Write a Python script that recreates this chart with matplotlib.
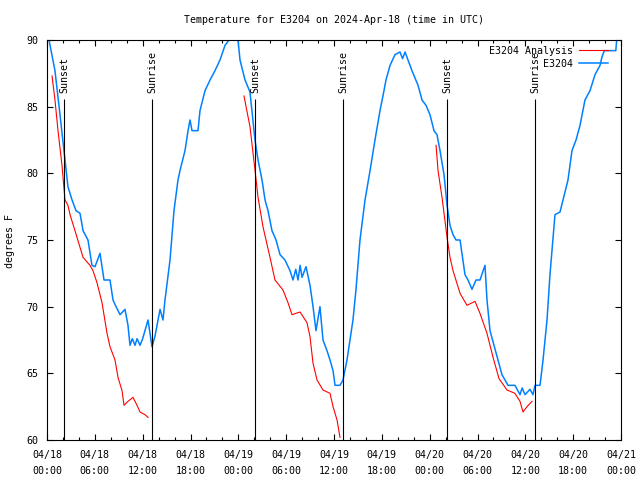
import numpy as np
import pandas as pd
import matplotlib
matplotlib.use("Agg")
import matplotlib.pyplot as plt
import matplotlib.dates as mdates

plt.rcParams['font.family'] = ['DejaVu Sans Mono']
plt.rcParams['font.size'] = 7.2

base = pd.Timestamp('2024-04-18 00:00')

# observed station temps (hours since 04/18 00:00 UTC, deg F)
obs_hours = [0.25, 1.0, 1.63, 2.13, 2.63, 3.14, 3.64, 4.14, 4.52, 5.14, 5.64, 6.02,
             6.65, 7.15, 7.9, 8.28, 8.66, 9.16, 9.78, 10.16, 10.41, 10.7, 11.04, 11.3,
             11.67, 12.0, 12.29, 12.67, 13.17, 13.55, 14.18, 14.55, 14.8, 15.43, 15.93,
             16.43, 16.68, 17.31, 17.69, 17.94, 18.19, 18.94, 19.19, 19.82, 20.45, 21.07,
             21.7, 22.33, 22.83, 23.33, 23.96, 24.21, 24.84, 25.46, 26.09, 26.47, 26.97,
             27.35, 27.72, 28.22, 28.73, 29.23, 29.85, 30.48, 30.86, 31.2, 31.49, 31.75,
             31.99, 32.49, 32.99, 33.37, 33.74, 34.24, 34.62, 35.12, 35.5, 35.88, 36.13,
             36.75, 37.13, 37.63, 38.01, 38.38, 38.76, 39.26, 39.89, 40.52, 41.14, 41.77,
             42.27, 42.52, 43.03, 43.65, 44.28, 44.6, 44.91, 45.28, 45.78, 46.54, 47.04,
             47.54, 48.04, 48.54, 48.92, 49.3, 49.8, 50.18, 50.55, 50.93, 51.3, 51.81,
             52.43, 52.81, 53.31, 53.81, 54.31, 54.94, 55.19, 55.57, 56.07, 56.57, 57.07,
             57.83, 58.7, 59.33, 59.6, 59.96, 60.59, 60.96, 61.21, 61.84, 62.22, 62.72,
             63.09, 63.72, 64.35, 64.73, 65.35, 65.85, 66.36, 66.86, 67.48, 68.11, 68.74,
             69.37, 69.6, 69.9, 71.35, 71.5, 72.0]
obs_temps = [90.0, 87.7, 84.4, 81.7, 79.0, 78.0, 77.2, 77.0, 75.7, 75.0, 73.1, 73.0,
             74.0, 72.0, 72.0, 70.5, 70.0, 69.4, 69.8, 68.6, 67.1, 67.6, 67.1, 67.6,
             67.1, 67.6, 68.2, 69.0, 67.0, 67.8, 69.8, 69.0, 70.5, 73.5, 77.2,
             79.5, 80.2, 81.7, 83.2, 84.0, 83.2, 83.2, 84.7, 86.2, 87.0, 87.7,
             88.5, 89.6, 90.0, 90.6, 90.0, 88.5, 87.0, 86.1, 82.5, 81.0, 79.5,
             78.0, 77.2, 75.7, 75.0, 73.9, 73.5, 72.7, 72.0, 72.8, 72.0, 73.1,
             72.2, 73.0, 71.6, 70.0, 68.2, 70.0, 67.5, 66.7, 66.0, 65.2, 64.1,
             64.1, 64.5, 66.0, 67.5, 69.0, 71.3, 75.0, 78.0, 80.2, 82.5, 84.7,
             86.2, 87.0, 88.1, 88.9, 89.1, 88.6, 89.1, 88.5, 87.7, 86.6, 85.5,
             85.1, 84.4, 83.2, 82.9, 81.7, 79.9, 77.6, 76.1, 75.4, 75.0, 75.0,
             72.4, 72.0, 71.3, 72.0, 72.0, 73.1, 70.5, 68.2, 67.1, 66.0, 64.9,
             64.1, 64.1, 63.4, 63.9, 63.4, 63.8, 63.4, 64.1, 64.1, 66.0, 69.0,
             72.4, 76.9, 77.1, 78.0, 79.5, 81.7, 82.5, 83.6, 85.5, 86.2, 87.4,
             88.1, 88.7, 89.2, 89.2, 90.3, 90.3]

# analysis temps, three nightly segments
ana1_hours = [0.63, 1.0, 1.38, 1.88, 2.26, 2.63, 2.89, 3.51, 4.52, 5.39, 5.77, 6.27,
              6.9, 7.53, 7.9, 8.53, 8.91, 9.41, 9.66, 10.16, 10.79, 11.29, 11.67,
              12.29, 12.67]
ana1_temps = [87.3, 85.5, 83.2, 80.6, 78.0, 77.6, 76.9, 75.7, 73.7, 73.1, 72.7, 71.8,
              70.3, 68.0, 67.0, 66.0, 64.7, 63.7, 62.6, 62.9, 63.2, 62.6, 62.1,
              61.9, 61.7]
ana2_hours = [24.71, 25.46, 26.09, 26.47, 27.09, 27.97, 28.6, 29.6, 30.23, 30.73,
              31.74, 32.61, 32.99, 33.37, 33.87, 34.62, 35.5, 35.88, 36.38, 36.75]
ana2_temps = [85.8, 83.5, 80.25, 78.2, 76.0, 73.7, 72.0, 71.25, 70.3, 69.4,
              69.6, 68.8, 67.75, 65.75, 64.5, 63.75, 63.5, 62.5, 61.5, 60.2]
ana3_hours = [48.8, 49.05, 49.55, 50.18, 50.55, 50.93, 51.81, 52.68, 53.69, 54.31,
              55.19, 55.95, 56.7, 57.7, 58.7, 59.33, 59.71, 60.21, 60.84]
ana3_temps = [82.1, 80.2, 78.2, 75.2, 73.7, 72.7, 71.0, 70.1, 70.4, 69.5,
              68.0, 66.2, 64.6, 63.75, 63.5, 62.9, 62.1, 62.5, 62.9]

sun_hours = [2.17, 13.2, 26.13, 37.17, 50.21, 61.25]
sun_labels = ['Sunset', 'Sunrise', 'Sunset', 'Sunrise', 'Sunset', 'Sunrise']


def to_time(hours):
    return base + pd.to_timedelta(np.array(hours), unit='h')


fig = plt.figure(figsize=(6.4, 4.8), dpi=100)
ax = fig.add_axes([47 / 640, 40 / 480, 574 / 640, 400 / 480])

first = True
for h, t in [(ana1_hours, ana1_temps), (ana2_hours, ana2_temps), (ana3_hours, ana3_temps)]:
    ax.plot(to_time(h), t, color='#ff0000', lw=0.8,
            label='E3204 Analysis' if first else None)
    first = False
ax.plot(to_time(obs_hours), obs_temps, color='#0080ff', lw=1.1, label='E3204')

for h, lab in zip(sun_hours, sun_labels):
    t = to_time([h])[0]
    ax.vlines(t, 60, 85.57, color='black', lw=0.8)
    ax.text(t, 86.0, lab, rotation=90, ha='center', va='bottom')

ax.set_xlim(base, base + pd.Timedelta(hours=72))
ax.set_ylim(60, 90)
ax.set_yticks([60, 65, 70, 75, 80, 85, 90])
ax.xaxis.set_major_locator(mdates.HourLocator(byhour=range(0, 24, 6)))
ax.xaxis.set_minor_locator(mdates.HourLocator(byhour=range(0, 24, 2)))
ax.xaxis.set_major_formatter(mdates.DateFormatter('%m/%d\n%H:%M'))
ax.tick_params(which='both', direction='in', top=True, right=True, width=0.8)
ax.tick_params(which='major', length=4.5, pad=6)
ax.tick_params(axis='x', which='major', pad=7.5)
ax.tick_params(which='minor', length=2.2)
for lbl in ax.get_xticklabels():
    lbl.set_linespacing(1.75)
for s in ax.spines.values():
    s.set_linewidth(0.8)

ax.legend(loc='upper right', bbox_to_anchor=(1 - 13 / 574, 1 - 6 / 400),
          frameon=False, markerfirst=False, handlelength=2.9, borderpad=0,
          borderaxespad=0, labelspacing=0.3, handletextpad=0.6)

fig.text(334 / 640, 1 - 20 / 480, 'Temperature for E3204 on 2024-Apr-18 (time in UTC)',
         ha='center', va='center')
fig.text(10 / 640, 1 - 241 / 480, 'degrees F', rotation=90, ha='center', va='center')

fig.savefig('out.png', dpi=100)
